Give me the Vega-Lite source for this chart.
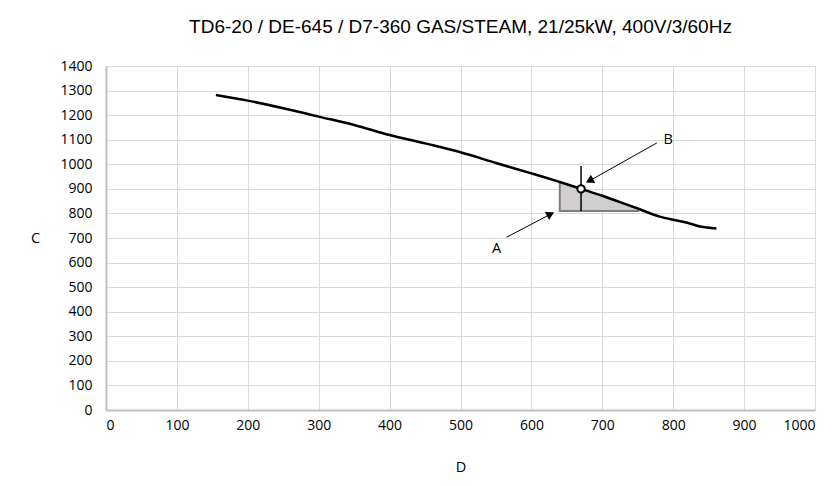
{
  "$schema": "https://vega.github.io/schema/vega-lite/v6.json",
  "autosize": "none",
  "width": 709,
  "height": 344,
  "padding": {"left": 106, "top": 66, "right": 22, "bottom": 76},
  "background": "white",
  "title": {
    "text": "TD6-20 / DE-645 / D7-360 GAS/STEAM, 21/25kW, 400V/3/60Hz",
    "font": "Liberation Sans",
    "fontSize": 19,
    "fontWeight": "normal",
    "color": "#000000",
    "anchor": "middle",
    "offset": 22
  },
  "config": {
    "view": {"stroke": null},
    "axis": {
      "gridColor": "#d9d9d9",
      "gridWidth": 1,
      "gridOpacity": 1,
      "domainColor": "#bfbfbf",
      "domainWidth": 2,
      "ticks": false,
      "labelOverlap": false,
      "labelFont": "Open Sans",
      "labelFontSize": 14,
      "labelColor": "#000000",
      "titleFont": "Open Sans",
      "titleFontSize": 14.5,
      "titleFontWeight": "normal",
      "titleColor": "#000000"
    },
    "axisX": {"tickCount": 10, "values": [0,100,200,300,400,500,600,700,800,900,1000]},
    "axisY": {"tickCount": 14, "values": [0,100,200,300,400,500,600,700,800,900,1000,1100,1200,1300,1400]}
  },
  "datasets": {
    "curve": [
      {"d": 155, "c": 1282},
      {"d": 200, "c": 1259},
      {"d": 250, "c": 1228},
      {"d": 300, "c": 1194},
      {"d": 350, "c": 1160},
      {"d": 400, "c": 1119},
      {"d": 450, "c": 1085},
      {"d": 500, "c": 1049},
      {"d": 550, "c": 1005},
      {"d": 600, "c": 963},
      {"d": 640, "c": 928},
      {"d": 670, "c": 900},
      {"d": 700, "c": 872},
      {"d": 725, "c": 846},
      {"d": 750, "c": 820},
      {"d": 781, "c": 787},
      {"d": 800, "c": 774},
      {"d": 820, "c": 762},
      {"d": 838, "c": 747},
      {"d": 861, "c": 739}
    ],
    "shade": [
      {"d": 640, "c": 928, "base": 810},
      {"d": 670, "c": 900, "base": 810},
      {"d": 700, "c": 872, "base": 810},
      {"d": 725, "c": 846, "base": 810},
      {"d": 752, "c": 812, "base": 810}
    ],
    "outline": [
      {"d": 640, "c": 928, "o": 1},
      {"d": 640, "c": 810, "o": 2},
      {"d": 752, "c": 810, "o": 3}
    ],
    "vline": [{"d": 670, "c1": 810, "c2": 993}],
    "point": [{"d": 670, "c": 900}],
    "arrows": [
      {"label": "A", "d1": 565, "c1": 703, "d2": 627, "c2": 797, "ld": 551, "lc": 654, "angle": 62},
      {"label": "B", "d1": 777, "c1": 1087, "d2": 682, "c2": 933, "ld": 793, "lc": 1099, "angle": 242}
    ]
  },
  "layer": [
    {
      "data": {"name": "shade"},
      "mark": {"type": "area", "color": "#d0cece", "opacity": 1},
      "encoding": {
        "x": {"field": "d", "type": "quantitative", "scale": {"domain": [0, 1000], "nice": false},
          "axis": {"title": "D", "tickCount": 10, "format": "d", "labelPadding": 8, "titleY": 57, "titleBaseline": "middle", "grid": true}},
        "y": {"field": "c", "type": "quantitative", "scale": {"domain": [0, 1400], "nice": false},
          "axis": {"title": "C", "tickCount": 14, "format": "d", "labelPadding": 14, "titleAngle": 0, "titleX": -71, "titleY": 172, "titleAlign": "center", "titleBaseline": "middle", "grid": true}},
        "y2": {"field": "base"}
      }
    },
    {
      "data": {"name": "outline"},
      "mark": {"type": "line", "color": "#7f7f7f", "strokeWidth": 2},
      "encoding": {
        "x": {"field": "d", "type": "quantitative"},
        "y": {"field": "c", "type": "quantitative"},
        "order": {"field": "o"}
      }
    },
    {
      "data": {"name": "vline"},
      "mark": {"type": "rule", "color": "#000000", "strokeWidth": 1.5},
      "encoding": {
        "x": {"field": "d", "type": "quantitative"},
        "y": {"field": "c1", "type": "quantitative"},
        "y2": {"field": "c2"}
      }
    },
    {
      "data": {"name": "curve"},
      "mark": {"type": "line", "color": "#000000", "strokeWidth": 2.5, "interpolate": "monotone"},
      "encoding": {
        "x": {"field": "d", "type": "quantitative"},
        "y": {"field": "c", "type": "quantitative"}
      }
    },
    {
      "data": {"name": "point"},
      "mark": {"type": "point", "filled": false, "fill": "#ffffff", "fillOpacity": 1, "stroke": "#000000", "strokeWidth": 2, "size": 55, "opacity": 1},
      "encoding": {
        "x": {"field": "d", "type": "quantitative"},
        "y": {"field": "c", "type": "quantitative"}
      }
    },
    {
      "data": {"name": "arrows"},
      "mark": {"type": "rule", "color": "#000000", "strokeWidth": 1},
      "encoding": {
        "x": {"field": "d1", "type": "quantitative"},
        "y": {"field": "c1", "type": "quantitative"},
        "x2": {"field": "d2"},
        "y2": {"field": "c2"}
      }
    },
    {
      "data": {"name": "arrows"},
      "mark": {"type": "point", "shape": "triangle-up", "filled": true, "color": "#000000", "size": 85, "opacity": 1},
      "encoding": {
        "x": {"field": "d2", "type": "quantitative"},
        "y": {"field": "c2", "type": "quantitative"},
        "angle": {"field": "angle", "type": "quantitative", "scale": null}
      }
    },
    {
      "data": {"name": "arrows"},
      "mark": {"type": "text", "font": "Open Sans", "fontSize": 14.5, "color": "#000000", "align": "center", "baseline": "middle"},
      "encoding": {
        "x": {"field": "ld", "type": "quantitative"},
        "y": {"field": "lc", "type": "quantitative"},
        "text": {"field": "label"}
      }
    }
  ]
}
